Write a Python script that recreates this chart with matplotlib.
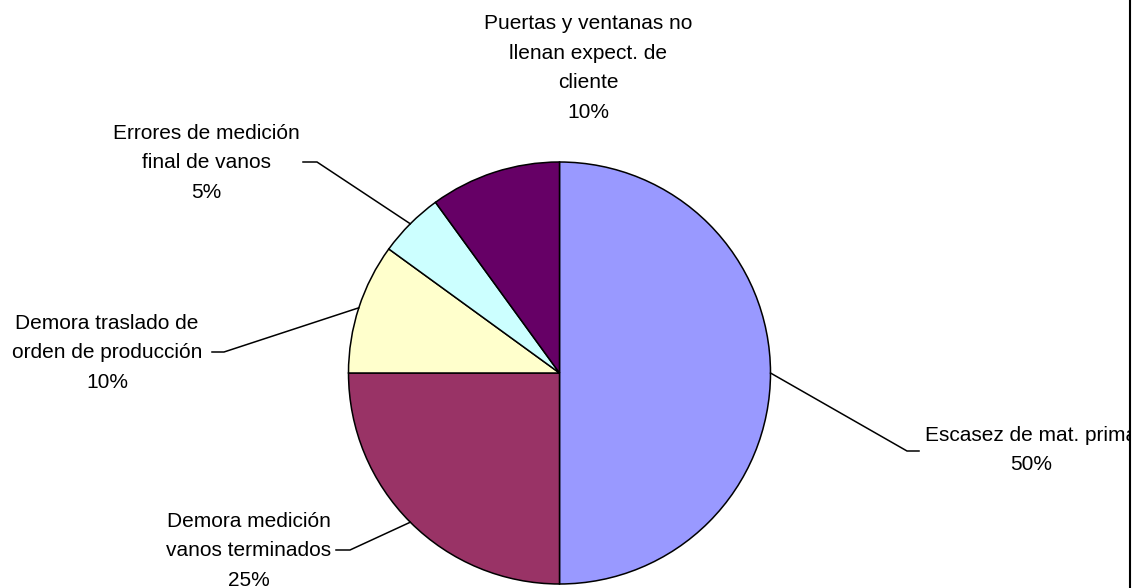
import numpy as np
import matplotlib.pyplot as plt

plt.rcParams['font.family'] = ['Liberation Sans', 'DejaVu Sans']

# datos del gráfico
labels = ['Escasez de mat. prima',
          'Demora medición\nvanos terminados',
          'Demora traslado de\norden de producción',
          'Errores de medición\nfinal de vanos',
          'Puertas y ventanas no\nllenan expect. de\ncliente']
values = [50, 25, 10, 5, 10]
colors = ['#9999FF', '#993366', '#FFFFCC', '#CCFFFF', '#660066']

# posiciones de etiquetas (px desde arriba-izquierda)
text_pos = [(1031, 450), (249, 551), (107, 353), (206, 163), (588, 68)]
elbows = [(907, 451), (350, 550), (224, 352), (317, 162), None]
line_ends = [(919, 451), (336, 550), (212, 352), (303, 162), None]

H = 588
cx, cy, r = 559.5, H - 373, 211

fig = plt.figure(figsize=(11.38, 5.88), dpi=100)
ax = fig.add_axes([0, 0, 1130 / 1138, 1])

wedges, _ = ax.pie(values, colors=colors, startangle=90, counterclock=False,
                   center=(cx, cy), radius=r, frame=True,
                   wedgeprops=dict(edgecolor='black', linewidth=1.1))

ax.set_xlim(0, 1130)
ax.set_ylim(0, H)
ax.set_xticks([])
ax.set_yticks([])
for s in ['left', 'top', 'bottom']:
    ax.spines[s].set_visible(False)
ax.spines['right'].set_linewidth(1.5)

for w, lab, v, tp, el, le in zip(wedges, labels, values, text_pos, elbows, line_ends):
    ax.text(tp[0], H - tp[1], f'{lab}\n{v}%', ha='center', va='center',
            fontsize=15, linespacing=1.72, clip_on=True)
    if el is None:
        continue
    th = np.deg2rad((w.theta1 + w.theta2) / 2)
    sx, sy = cx + r * np.cos(th), cy + r * np.sin(th)
    ax.plot([sx, el[0], le[0]], [sy, H - el[1], H - le[1]],
            color='black', lw=1.1, solid_joinstyle='miter')

fig.savefig('out.png', dpi=100)
